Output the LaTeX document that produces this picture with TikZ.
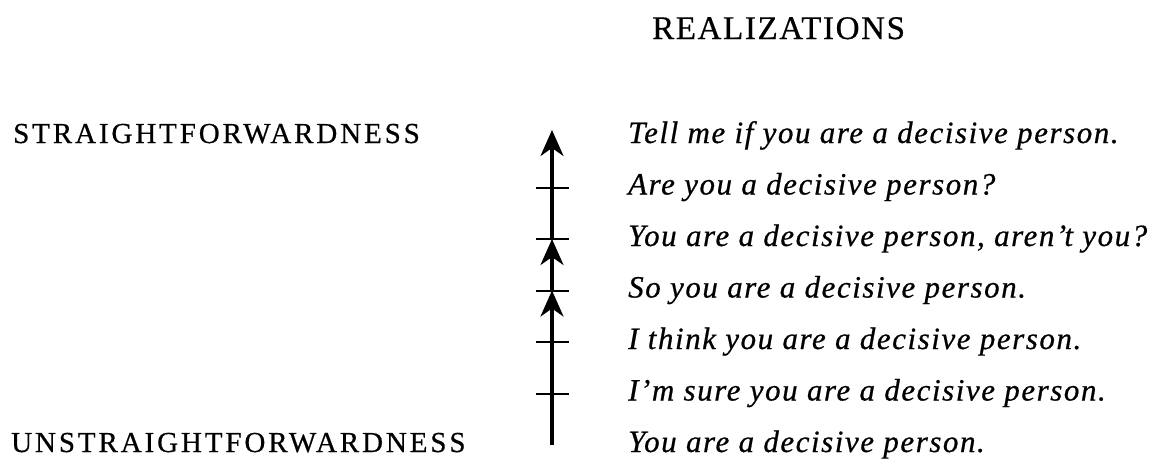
\documentclass[tikz,border=0pt]{standalone}
\usepackage{fontspec}
\setmainfont{Liberation Serif}
\usetikzlibrary{arrows.meta}
\begin{document}
\begin{tikzpicture}[x=1pt, y=-1pt,
  every node/.style={inner sep=0pt, anchor=base west},
  caps/.style={font=\fontsize{29}{32}\selectfont\addfontfeatures{LetterSpace=10,FakeBold=0.6}},
  sample/.style={font=\fontsize{31}{34}\selectfont\itshape\addfontfeatures{LetterSpace=5,FakeBold=0.6}},
  tickmark/.style={line width=2pt},
  axis/.style={line width=3.2pt, -{Stealth[length=26pt,width=23pt,inset=8pt]}}]
\useasboundingbox (0,0) rectangle (1174,461);
% Heading
\node[font=\fontsize{33}{36}\selectfont\addfontfeatures{LetterSpace=5,FakeBold=0.6}] (title) at (652,39) {REALIZATIONS};
% Scale ends
\node[caps] (straight) at (13,143) {STRAIGHTFORWARDNESS};
\node[caps] (unstraight) at (11,452) {UNSTRAIGHTFORWARDNESS};
% Realizations, most direct first
\foreach \txt [count=\i from 0] in {{Tell me if you are a decisive person.}, {Are you a decisive person?}, {You are a decisive person, aren't you?}, {So you are a decisive person.}, {I think you are a decisive person.}, {I'm sure you are a decisive person.}, {You are a decisive person.}}
  \node[sample] (r\i) at (628,143+51.5*\i) {\txt};
% Scale
\coordinate (lo) at (552,445);
\coordinate (hi) at (552,130);
\foreach \i in {1,...,5} \coordinate (k\i) at (552,136+51.5*\i);
\foreach \i in {1,...,5} \draw[tickmark] ([xshift=-16pt]k\i) -- ([xshift=17pt]k\i);
\draw[axis] (lo) -- (k3);
\draw[axis] (k3) -- (k2);
\draw[axis] (k2) -- (hi);
\end{tikzpicture}
\end{document}
